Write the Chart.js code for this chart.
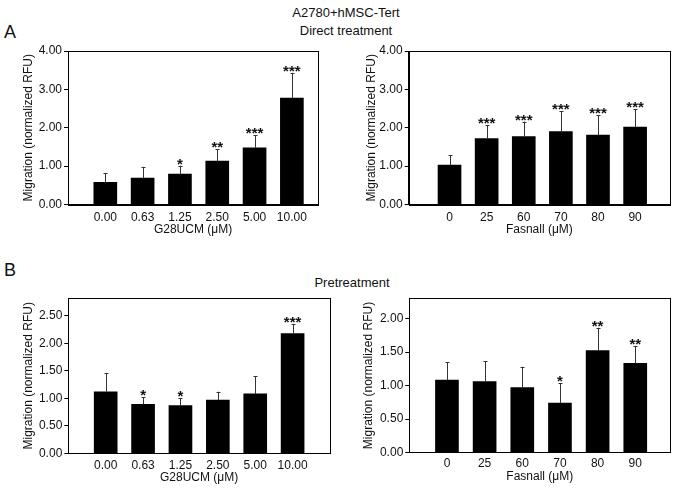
<!DOCTYPE html>
<html>
<head>
<meta charset="utf-8">
<title>A2780+hMSC-Tert migration</title>
<script src="https://cdn.jsdelivr.net/npm/chart.js@4.4.1/dist/chart.umd.min.js"></script>
<style>
  body { margin: 0; background: #fff; font-family: "Liberation Sans", Arial, sans-serif; color: #111; }
  #page { position: relative; width: 677px; height: 489px; overflow: hidden; }
  canvas { position: absolute; }
  .head { position: absolute; white-space: nowrap; transform: translate(-50%, -50%); font-size: 13px; }
  .tag { position: absolute; font-size: 18px; transform: translateY(-50%); }
</style>
</head>
<body>
<div id="page">
  <div class="head" style="left:346px; top:12px">A2780+hMSC-Tert</div>
  <div class="head" style="left:346px; top:30px">Direct treatment</div>
  <div class="head" style="left:352px; top:282px">Pretreatment</div>
  <div class="tag" style="left:4px; top:32px">A</div>
  <div class="tag" style="left:4px; top:270px">B</div>
  <canvas id="directG28" width="330" height="200" style="left:0; top:40px"></canvas>
  <canvas id="directFas" width="337" height="200" style="left:340px; top:40px"></canvas>
  <canvas id="preG28" width="340" height="204" style="left:0; top:285px"></canvas>
  <canvas id="preFas" width="337" height="204" style="left:340px; top:285px"></canvas>
</div>
<script>
// doses
const g28Doses = ['0.00', '0.63', '1.25', '2.50', '5.00', '10.00'];
const fasDoses = ['0', '25', '60', '70', '80', '90'];

// A - direct treatment
const directG28 = [0.58, 0.69, 0.79, 1.13, 1.48, 2.77];
const directG28Err = [0.23, 0.29, 0.22, 0.31, 0.33, 0.66];
const directG28Sig = ['', '', '*', '**', '***', '***'];

const directFas = [1.03, 1.72, 1.77, 1.90, 1.81, 2.02];
const directFasErr = [0.25, 0.34, 0.39, 0.53, 0.51, 0.46];
const directFasSig = ['', '***', '***', '***', '***', '***'];

// B - pretreatment
const preG28 = [1.12, 0.89, 0.87, 0.97, 1.08, 2.18];
const preG28Err = [0.34, 0.13, 0.13, 0.15, 0.32, 0.17];
const preG28Sig = ['', '*', '*', '', '', '***'];

const preFas = [1.08, 1.06, 0.97, 0.74, 1.52, 1.33];
const preFasErr = [0.27, 0.30, 0.31, 0.30, 0.34, 0.26];
const preFasSig = ['', '', '', '*', '**', '**'];

// y ticks
const yTicksDirect = [0, 1, 2, 3, 4];
const yTicksPreG28 = [0, 0.5, 1, 1.5, 2, 2.5];
const yTicksPreFas = [0, 0.5, 1, 1.5, 2];

const FONT = '"Liberation Sans", Arial, sans-serif';

// error bars (upper only), significance stars and the box frame
const errorBars = {
    id: 'errorBars',
    afterDatasetsDraw(chart) {
        const ctx = chart.ctx;
        const ds = chart.data.datasets[0];
        const yScale = chart.scales.y;
        const meta = chart.getDatasetMeta(0);
        ctx.save();
        meta.data.forEach((bar, i) => {
            const top = yScale.getPixelForValue(ds.data[i].y + ds.errors[i]);
            const x = Math.round(bar.x) + 0.5;
            ctx.strokeStyle = '#333';
            ctx.lineWidth = 1;
            ctx.beginPath();
            ctx.moveTo(x, bar.y);
            ctx.lineTo(x, top);
            ctx.moveTo(x - 2, Math.round(top) + 0.5);
            ctx.lineTo(x + 2, Math.round(top) + 0.5);
            ctx.stroke();
            if (ds.sig[i]) {
                ctx.fillStyle = '#111';
                ctx.font = 'bold 15px ' + FONT;
                ctx.textAlign = 'center';
                ctx.textBaseline = 'alphabetic';
                ctx.fillText(ds.sig[i], bar.x, top + 3);
            }
        });
        const a = chart.chartArea;
        ctx.strokeStyle = '#000';
        ctx.lineWidth = 1;
        ctx.strokeRect(Math.round(a.left) + 0.5, Math.round(a.top) + 0.5,
            Math.round(a.right - a.left), Math.round(a.bottom - a.top));
        ctx.restore();
    }
};

function makePanel(id, p) {
    const ctx = document.getElementById(id).getContext('2d');
    return new Chart(ctx, {
        type: 'bar',
        data: {
            datasets: [{
                data: p.values.map((v, i) => ({ x: i + 1, y: v })),
                errors: p.errors,
                sig: p.sig,
                backgroundColor: '#000',
                borderWidth: 0,
                barThickness: 23
            }]
        },
        options: {
            responsive: false,
            animation: false,
            devicePixelRatio: 1,
            layout: { padding: { left: 0, top: p.padTop, right: p.padRight, bottom: 0 } },
            plugins: { legend: { display: false }, tooltip: { enabled: false } },
            scales: {
                x: {
                    type: 'linear',
                    offset: false,
                    min: p.xMin,
                    max: p.xMax,
                    grid: { display: false, drawTicks: false },
                    border: { display: true, color: '#000', width: 1 },
                    afterBuildTicks: s => { s.ticks = p.labels.map((_, i) => ({ value: i + 1 })); },
                    afterFit: s => { s.height = p.xAxisH; },
                    ticks: {
                        autoSkip: false,
                        maxRotation: 0,
                        padding: p.xTickPad,
                        color: '#111',
                        font: { family: FONT, size: 12 },
                        callback: v => p.labels[v - 1]
                    },
                    title: {
                        display: true,
                        text: p.xTitle,
                        color: '#111',
                        font: { family: FONT, size: 12 },
                        padding: { top: 0, bottom: p.xTitlePad }
                    }
                },
                y: {
                    min: 0,
                    max: p.yMax,
                    grid: { display: true, drawOnChartArea: false, drawTicks: true, tickLength: 4, color: '#000' },
                    border: { display: true, color: '#000', width: 1 },
                    afterBuildTicks: s => { s.ticks = p.yTicks.map(v => ({ value: v })); },
                    afterFit: s => { s.width = p.yAxisW; },
                    ticks: {
                        padding: 2,
                        color: '#111',
                        font: { family: FONT, size: 12 },
                        callback: v => Number(v).toFixed(2)
                    },
                    title: {
                        display: true,
                        text: 'Migration (normalized RFU)',
                        color: '#111',
                        font: { family: FONT, size: 12 },
                        padding: { top: p.yTitlePad, bottom: 0 }
                    }
                }
            }
        },
        plugins: [errorBars]
    });
}

makePanel('directG28', {
    labels: g28Doses, values: directG28, errors: directG28Err, sig: directG28Sig,
    yMax: 4, yTicks: yTicksDirect, xMin: 0, xMax: 6.7, xTitle: 'G28UCM (\u03BCM)',
    yAxisW: 68, xAxisH: 35.5, padTop: 11, padRight: 12, xTickPad: 6.3, xTitlePad: 3.4, yTitlePad: 21.8
});
makePanel('directFas', {
    labels: fasDoses, values: directFas, errors: directFasErr, sig: directFasSig,
    yMax: 4, yTicks: yTicksDirect, xMin: -0.1, xMax: 6.94, xTitle: 'Fasnall (\u03BCM)',
    yAxisW: 68.7, xAxisH: 35.5, padTop: 11, padRight: 7, xTickPad: 6.3, xTitlePad: 3.4, yTitlePad: 24.5
});
makePanel('preG28', {
    labels: g28Doses, values: preG28, errors: preG28Err, sig: preG28Sig,
    yMax: 2.82, yTicks: yTicksPreG28, xMin: 0, xMax: 7, xTitle: 'G28UCM (\u03BCM)',
    yAxisW: 68.3, xAxisH: 35.7, padTop: 13.3, padRight: 10, xTickPad: 5.5, xTitlePad: 4.4, yTitlePad: 21.1
});
makePanel('preFas', {
    labels: fasDoses, values: preFas, errors: preFasErr, sig: preFasSig,
    yMax: 2.3, yTicks: yTicksPreFas, xMin: 0, xMax: 6.93, xTitle: 'Fasnall (\u03BCM)',
    yAxisW: 69.3, xAxisH: 36.3, padTop: 13.3, padRight: 6.7, xTickPad: 4.1, xTitlePad: 5.4, yTitlePad: 21.5
});
</script>
</body>
</html>
